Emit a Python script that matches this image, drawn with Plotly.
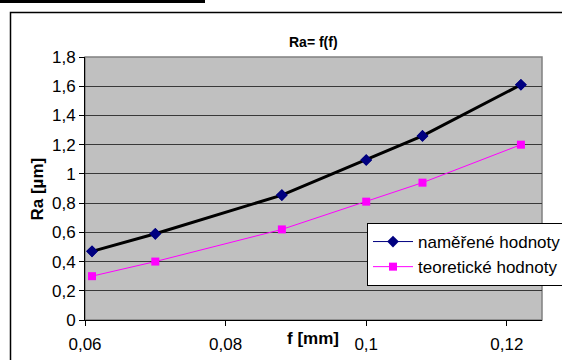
import plotly.graph_objects as go

f_mm = [0.061, 0.07, 0.088, 0.1, 0.108, 0.122]
ra_measured = [0.47, 0.59, 0.855, 1.095, 1.26, 1.61]
ra_theory = [0.30, 0.40, 0.62, 0.81, 0.94, 1.20]
series_names = ["naměřené hodnoty", "teoretické hodnoty"]
title_text = "Ra= f(f)"
x_title = "f [mm]"
y_title = "Ra [µm]"

W, H = 562, 360
L, R, T, B = 85, 20, 57, 40
pw, ph = W - L - R, H - T - B

def px(x):
    return (x - L) / pw

def py(y):
    return (H - B - y) / ph

FONT = "Arial, Liberation Sans, sans-serif"

fig = go.Figure()
# legend entry (navy line + diamond), drawn first so the black line covers its line
fig.add_trace(go.Scatter(x=f_mm, y=ra_measured, mode="lines+markers",
                         name=series_names[0],
                         line=dict(color="#000080", width=1),
                         marker=dict(symbol="diamond", size=9, color="#000080")))
fig.add_trace(go.Scatter(x=f_mm, y=ra_measured, mode="lines",
                         line=dict(color="black", width=3),
                         showlegend=False, hoverinfo="skip"))
fig.add_trace(go.Scatter(x=f_mm, y=ra_measured, mode="markers",
                         marker=dict(symbol="diamond", size=9, color="#000080"),
                         showlegend=False, hoverinfo="skip"))
fig.add_trace(go.Scatter(x=f_mm, y=ra_theory, mode="lines+markers",
                         name=series_names[1],
                         line=dict(color="#FF00FF", width=1),
                         marker=dict(symbol="square", size=8, color="#FF00FF")))

shapes = [
    dict(type="rect", xref="paper", yref="paper", x0=0, x1=1, y0=0, y1=1,
         line=dict(color="#808080", width=1.5), layer="below"),
    dict(type="rect", xref="paper", yref="paper", x0=px(10.5), x1=px(580),
         y0=py(380), y1=py(12.5), line=dict(color="black", width=1.5)),
    dict(type="line", xref="paper", yref="paper", x0=px(0), x1=px(205),
         y0=py(1.5), y1=py(1.5), line=dict(color="black", width=3)),
    dict(type="line", xref="paper", yref="paper", x0=px(83.5), x1=px(83.5),
         y0=py(0), y1=py(3), line=dict(color="black", width=1.5)),
    dict(type="line", xref="paper", yref="paper", x0=px(203), x1=px(203),
         y0=py(0), y1=py(3), line=dict(color="black", width=2)),
]

annotations = [
    dict(text="<b>" + title_text + "</b>", xref="paper", yref="paper",
         x=px(313), y=py(32), showarrow=False,
         font=dict(family=FONT, size=14, color="black")),
    dict(text="<b>" + x_title + "</b>", xref="paper", yref="paper",
         x=px(313), y=py(350), showarrow=False,
         font=dict(family=FONT, size=17, color="black")),
    dict(text="<b>" + y_title + "</b>", xref="paper", yref="paper",
         x=px(25), y=py(189), showarrow=False, textangle=-90,
         font=dict(family=FONT, size=17, color="black")),
]

fig.update_layout(
    width=W, height=H,
    margin=dict(l=L, r=R, t=T, b=B, autoexpand=False),
    paper_bgcolor="white", plot_bgcolor="#C0C0C0",
    separators=", ",
    font=dict(family=FONT, size=17, color="black"),
    shapes=shapes, annotations=annotations,
    legend=dict(x=px(367), y=py(223), xanchor="left", yanchor="top",
                bgcolor="white", bordercolor="black", borderwidth=1,
                font=dict(family=FONT, size=17, color="black"),
                itemwidth=40, tracegroupgap=0),
    xaxis=dict(range=[0.06, 0.125], dtick=0.02, tick0=0.06,
               showgrid=False, zeroline=False,
               showline=True, linecolor="black", linewidth=1,
               ticks="outside", ticklen=5, tickcolor="black",
               ticklabelstandoff=4,
               tickfont=dict(family=FONT, size=17, color="black")),
    yaxis=dict(range=[0, 1.8], dtick=0.2, tick0=0,
               showgrid=True, gridcolor="#383838", gridwidth=1,
               zeroline=False,
               showline=True, linecolor="black", linewidth=1,
               ticks="outside", ticklen=5, tickcolor="black",
               tickfont=dict(family=FONT, size=17, color="black")),
)

fig.write_html("out.html")
